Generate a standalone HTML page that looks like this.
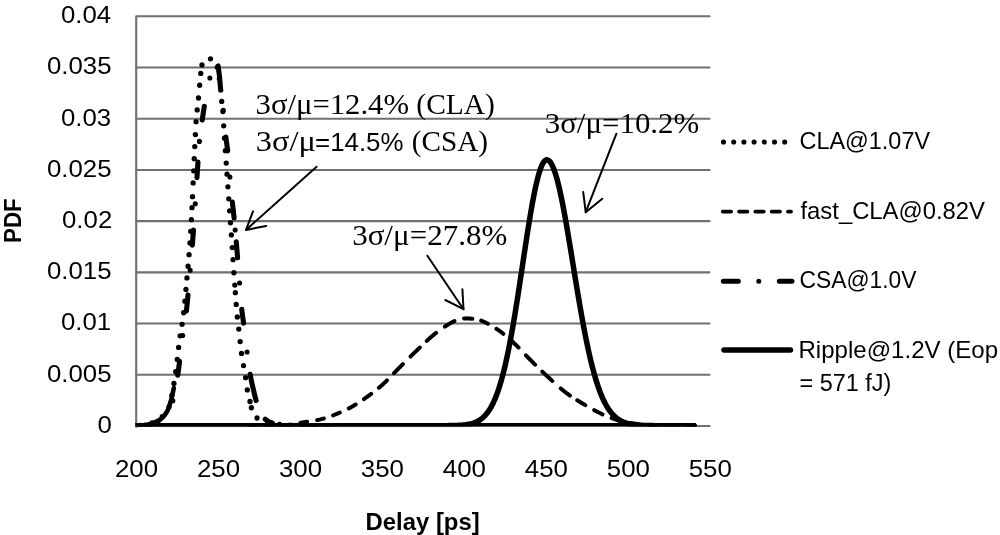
<!DOCTYPE html>
<html><head><meta charset="utf-8"><style>
html,body{margin:0;padding:0;background:#fff;}
svg{display:block;will-change:transform;}
text{font-family:"Liberation Sans",sans-serif;fill:#000;}
text.s{font-family:"Liberation Serif",serif;}
</style></head><body>
<svg width="1000" height="535" viewBox="0 0 1000 535">
<rect width="1000" height="535" fill="#fff"/>
<defs><clipPath id="pa"><rect x="135.5" y="0" width="576" height="426.4"/></clipPath></defs>
<g stroke="#707070" stroke-width="2.1" fill="none" stroke-linecap="round">
<line x1="136" y1="67.51" x2="709.5" y2="67.51"/>
<line x1="136" y1="118.72" x2="709.5" y2="118.72"/>
<line x1="136" y1="169.93" x2="709.5" y2="169.93"/>
<line x1="136" y1="221.14" x2="709.5" y2="221.14"/>
<line x1="136" y1="272.35" x2="709.5" y2="272.35"/>
<line x1="136" y1="323.56" x2="709.5" y2="323.56"/>
<line x1="136" y1="374.77" x2="709.5" y2="374.77"/>
<path d="M136.2,427 L136.2,16.3 L709.5,16.3" stroke-linejoin="round"/>
<line x1="136.2" y1="426" x2="709.5" y2="426"/>
</g>
<text font-size="24" transform="translate(60.95,23.45) scale(1.0750,1)">0.04</text>
<text font-size="24" transform="translate(46.98,74.00) scale(1.0750,1)">0.035</text>
<text font-size="24" transform="translate(60.95,126.30) scale(1.0750,1)">0.03</text>
<text font-size="24" transform="translate(46.98,176.95) scale(1.0750,1)">0.025</text>
<text font-size="24" transform="translate(62.03,228.45) scale(1.0750,1)">0.02</text>
<text font-size="24" transform="translate(46.98,279.45) scale(1.0750,1)">0.015</text>
<text font-size="24" transform="translate(60.95,330.00) scale(1.0750,1)">0.01</text>
<text font-size="24" transform="translate(46.98,382.35) scale(1.0750,1)">0.005</text>
<text font-size="24" transform="translate(97.50,433.25) scale(1.0750,1)">0</text>
<text font-size="24" transform="translate(114.94,477.00) scale(1.0780,1)">200</text>
<text font-size="24" transform="translate(196.91,477.00) scale(1.0780,1)">250</text>
<text font-size="24" transform="translate(278.88,477.00) scale(1.0780,1)">300</text>
<text font-size="24" transform="translate(360.85,477.00) scale(1.0780,1)">350</text>
<text font-size="24" transform="translate(442.82,477.00) scale(1.0780,1)">400</text>
<text font-size="24" transform="translate(524.79,477.00) scale(1.0780,1)">450</text>
<text font-size="24" transform="translate(606.76,477.00) scale(1.0780,1)">500</text>
<text font-size="24" transform="translate(688.73,477.00) scale(1.0780,1)">550</text>
<text font-size="24" font-weight="bold" transform="translate(365.61,529.50) scale(0.9946,1)">Delay [ps]</text>
<text font-size="24" transform="translate(799.52,149.10) scale(0.9759,1)">CLA@1.07V</text>
<text font-size="24" transform="translate(800.50,218.60) scale(0.9935,1)">fast_CLA@0.82V</text>
<text font-size="24" transform="translate(799.55,288.10) scale(0.9508,1)">CSA@1.0V</text>
<text font-size="24" transform="translate(798.49,357.60) scale(1.0026,1)">Ripple@1.2V (Eop</text>
<text font-size="24" transform="translate(799.52,390.80) scale(0.9761,1)">= 571 fJ)</text>
<text class="s" font-size="30" transform="translate(255.55,114.10) scale(1.0238,1)">3σ/μ=12.4%</text>
<text class="s" font-size="30" transform="translate(416.32,114.10) scale(0.9821,1)">(CLA)</text>
<text class="s" font-size="30" transform="translate(255.74,150.80) scale(1.0808,1)">3σ/μ</text>
<text font-size="26.5" transform="translate(315.12,150.60) scale(0.9753,1)">=14.5%</text>
<text class="s" font-size="30" transform="translate(411.73,150.80) scale(0.9737,1)">(CSA)</text>
<text class="s" font-size="30" transform="translate(544.74,133.20) scale(1.0306,1)">3σ/μ=10.2%</text>
<text class="s" font-size="30" transform="translate(352.13,245.10) scale(1.0347,1)">3σ/μ=27.8%</text>
<text font-size="24.5" font-weight="bold" transform="translate(21.3,242.92) rotate(-90) scale(0.9109,1)">PDF</text>
<g clip-path="url(#pa)" fill="none" stroke="#000" stroke-linejoin="round">
<line x1="133" y1="424.75" x2="694.6" y2="424.75" stroke-width="3.4" stroke-linecap="round"/>
<path d="M250.00,425.60 L250.52,425.60 L251.12,425.59 L251.80,425.59 L252.53,425.59 L253.33,425.59 L254.19,425.59 L255.10,425.58 L256.06,425.58 L257.05,425.58 L258.09,425.58 L259.16,425.58 L260.26,425.57 L261.38,425.57 L262.52,425.57 L263.67,425.56 L264.83,425.56 L266.00,425.56 L267.16,425.55 L268.32,425.54 L269.47,425.54 L270.60,425.53 L271.71,425.52 L272.80,425.51 L273.85,425.50 L274.87,425.49 L275.86,425.48 L276.79,425.47 L277.68,425.45 L278.51,425.44 L279.29,425.42 L280.00,425.40 L281.51,425.35 L282.83,425.30 L283.99,425.25 L285.00,425.19 L285.90,425.13 L286.71,425.07 L287.46,424.99 L288.17,424.92 L288.86,424.83 L289.57,424.74 L290.31,424.63 L291.11,424.52 L292.00,424.40 L292.94,424.27 L293.86,424.12 L294.78,423.97 L295.69,423.80 L296.61,423.63 L297.54,423.45 L298.47,423.26 L299.41,423.07 L300.38,422.88 L301.37,422.68 L302.38,422.49 L303.42,422.29 L304.50,422.10 L305.35,421.96 L306.22,421.82 L307.11,421.68 L308.02,421.55 L308.95,421.42 L309.89,421.29 L310.84,421.15 L311.80,421.01 L312.77,420.87 L313.74,420.72 L314.71,420.57 L315.69,420.40 L316.66,420.23 L317.63,420.04 L318.60,419.84 L319.55,419.63 L320.50,419.40 L321.44,419.16 L322.38,418.90 L323.33,418.64 L324.27,418.36 L325.21,418.07 L326.16,417.78 L327.10,417.47 L328.04,417.16 L328.98,416.84 L329.93,416.51 L330.87,416.17 L331.81,415.82 L332.75,415.47 L333.69,415.11 L334.63,414.75 L335.56,414.38 L336.50,414.00 L337.38,413.64 L338.27,413.27 L339.15,412.90 L340.03,412.52 L340.92,412.14 L341.80,411.75 L342.68,411.35 L343.56,410.95 L344.44,410.54 L345.32,410.12 L346.20,409.70 L347.08,409.26 L347.95,408.82 L348.83,408.38 L349.70,407.92 L350.57,407.45 L351.43,406.98 L352.30,406.50 L353.12,406.04 L353.93,405.56 L354.74,405.09 L355.55,404.60 L356.36,404.11 L357.17,403.61 L357.97,403.10 L358.77,402.58 L359.57,402.06 L360.38,401.54 L361.18,401.00 L361.98,400.46 L362.78,399.91 L363.58,399.36 L364.38,398.80 L365.18,398.23 L365.99,397.66 L366.79,397.08 L367.60,396.50 L368.37,395.94 L369.14,395.38 L369.90,394.81 L370.67,394.24 L371.44,393.66 L372.21,393.08 L372.98,392.50 L373.75,391.90 L374.52,391.31 L375.29,390.70 L376.06,390.09 L376.84,389.47 L377.61,388.84 L378.38,388.20 L379.15,387.56 L379.92,386.91 L380.69,386.25 L381.46,385.57 L382.23,384.89 L383.00,384.20 L383.70,383.56 L384.39,382.91 L385.09,382.25 L385.78,381.58 L386.47,380.90 L387.16,380.21 L387.85,379.51 L388.54,378.81 L389.23,378.10 L389.92,377.39 L390.61,376.67 L391.31,375.94 L392.00,375.22 L392.70,374.49 L393.40,373.75 L394.10,373.02 L394.81,372.28 L395.51,371.54 L396.23,370.80 L396.95,370.07 L397.67,369.33 L398.40,368.60 L399.07,367.93 L399.75,367.25 L400.43,366.57 L401.12,365.88 L401.81,365.19 L402.50,364.50 L403.20,363.81 L403.90,363.11 L404.60,362.41 L405.30,361.71 L406.01,361.01 L406.71,360.31 L407.42,359.61 L408.13,358.91 L408.84,358.21 L409.55,357.51 L410.26,356.81 L410.97,356.12 L411.68,355.42 L412.38,354.73 L413.09,354.04 L413.80,353.36 L414.50,352.68 L415.20,352.00 L415.90,351.32 L416.61,350.64 L417.32,349.95 L418.03,349.26 L418.74,348.57 L419.45,347.87 L420.17,347.18 L420.88,346.49 L421.60,345.79 L422.31,345.10 L423.03,344.41 L423.74,343.73 L424.45,343.05 L425.16,342.38 L425.86,341.72 L426.56,341.06 L427.26,340.41 L427.95,339.77 L428.64,339.14 L429.33,338.53 L430.01,337.93 L430.68,337.34 L431.34,336.76 L432.00,336.20 L432.83,335.51 L433.66,334.83 L434.48,334.17 L435.31,333.51 L436.13,332.87 L436.95,332.25 L437.76,331.64 L438.57,331.04 L439.37,330.46 L440.16,329.89 L440.93,329.34 L441.70,328.80 L442.45,328.28 L443.19,327.78 L443.91,327.29 L444.61,326.82 L445.29,326.36 L445.96,325.92 L446.60,325.50 L447.65,324.82 L448.61,324.20 L449.52,323.65 L450.37,323.14 L451.18,322.68 L451.97,322.26 L452.74,321.86 L453.52,321.50 L454.31,321.16 L455.13,320.82 L456.00,320.50 L456.90,320.19 L457.81,319.90 L458.73,319.63 L459.67,319.39 L460.60,319.17 L461.55,318.97 L462.49,318.81 L463.43,318.66 L464.36,318.55 L465.28,318.46 L466.20,318.40 L467.20,318.37 L468.20,318.39 L469.21,318.45 L470.21,318.54 L471.20,318.66 L472.19,318.80 L473.16,318.96 L474.12,319.13 L475.07,319.31 L476.00,319.50 L476.97,319.69 L477.86,319.85 L478.71,320.01 L479.54,320.20 L480.38,320.42 L481.28,320.70 L482.26,321.06 L483.36,321.52 L484.60,322.10 L485.28,322.44 L486.00,322.80 L486.75,323.19 L487.53,323.60 L488.34,324.03 L489.17,324.48 L490.03,324.95 L490.90,325.44 L491.78,325.95 L492.68,326.48 L493.58,327.02 L494.49,327.58 L495.41,328.15 L496.32,328.74 L497.23,329.34 L498.13,329.95 L499.02,330.57 L499.90,331.20 L500.62,331.73 L501.34,332.27 L502.07,332.83 L502.80,333.41 L503.54,333.99 L504.28,334.59 L505.02,335.20 L505.76,335.82 L506.51,336.45 L507.25,337.09 L508.00,337.73 L508.74,338.38 L509.49,339.04 L510.23,339.70 L510.97,340.36 L511.70,341.02 L512.43,341.69 L513.16,342.35 L513.88,343.02 L514.59,343.68 L515.30,344.34 L516.00,345.00 L516.72,345.69 L517.43,346.38 L518.14,347.07 L518.83,347.76 L519.51,348.46 L520.19,349.16 L520.87,349.86 L521.54,350.57 L522.21,351.28 L522.87,351.99 L523.54,352.70 L524.21,353.42 L524.88,354.14 L525.56,354.86 L526.24,355.58 L526.92,356.31 L527.62,357.04 L528.32,357.78 L529.04,358.52 L529.76,359.26 L530.50,360.00 L531.16,360.65 L531.82,361.31 L532.48,361.98 L533.15,362.65 L533.83,363.32 L534.51,364.00 L535.20,364.67 L535.89,365.36 L536.58,366.04 L537.28,366.72 L537.98,367.41 L538.69,368.10 L539.40,368.79 L540.11,369.48 L540.82,370.17 L541.53,370.86 L542.25,371.54 L542.97,372.23 L543.69,372.91 L544.41,373.60 L545.13,374.28 L545.85,374.96 L546.58,375.63 L547.30,376.30 L548.03,376.97 L548.76,377.65 L549.50,378.33 L550.24,379.02 L550.99,379.71 L551.74,380.41 L552.49,381.10 L553.25,381.80 L554.01,382.49 L554.77,383.18 L555.53,383.87 L556.29,384.56 L557.05,385.24 L557.81,385.91 L558.57,386.58 L559.33,387.24 L560.08,387.89 L560.83,388.53 L561.57,389.16 L562.31,389.77 L563.04,390.38 L563.77,390.97 L564.49,391.54 L565.20,392.10 L566.04,392.75 L566.88,393.38 L567.70,393.98 L568.52,394.57 L569.33,395.14 L570.13,395.69 L570.93,396.23 L571.73,396.76 L572.52,397.28 L573.31,397.79 L574.09,398.29 L574.88,398.78 L575.67,399.27 L576.46,399.76 L577.25,400.24 L578.05,400.73 L578.85,401.21 L579.66,401.70 L580.48,402.20 L581.30,402.70 L582.13,403.21 L582.98,403.72 L583.83,404.23 L584.70,404.74 L585.56,405.26 L586.44,405.77 L587.31,406.28 L588.19,406.79 L589.07,407.29 L589.95,407.79 L590.82,408.29 L591.69,408.77 L592.56,409.25 L593.41,409.72 L594.26,410.18 L595.10,410.63 L595.92,411.07 L596.73,411.49 L597.52,411.90 L598.30,412.30 L599.31,412.81 L600.30,413.29 L601.26,413.75 L602.21,414.19 L603.14,414.62 L604.05,415.03 L604.95,415.42 L605.84,415.80 L606.73,416.17 L607.61,416.53 L608.48,416.87 L609.36,417.21 L610.23,417.55 L611.11,417.88 L612.00,418.20 L612.95,418.54 L613.88,418.87 L614.80,419.18 L615.71,419.48 L616.61,419.77 L617.52,420.05 L618.42,420.32 L619.33,420.59 L620.24,420.84 L621.16,421.08 L622.09,421.32 L623.04,421.55 L624.01,421.78 L625.00,422.00 L625.87,422.19 L626.75,422.37 L627.62,422.54 L628.49,422.71 L629.37,422.87 L630.26,423.03 L631.15,423.18 L632.06,423.32 L632.98,423.46 L633.92,423.60 L634.88,423.73 L635.85,423.85 L636.85,423.97 L637.87,424.08 L638.92,424.19 L640.00,424.30 L640.83,424.38 L641.65,424.45 L642.46,424.52 L643.28,424.58 L644.09,424.64 L644.91,424.70 L645.74,424.76 L646.58,424.81 L647.43,424.86 L648.31,424.90 L649.20,424.95 L650.12,424.99 L651.06,425.03 L652.04,425.07 L653.05,425.10 L654.09,425.14 L655.18,425.17 L656.31,425.21 L657.49,425.24 L658.72,425.27 L660.00,425.30 L660.79,425.32 L661.62,425.33 L662.50,425.35 L663.42,425.37 L664.38,425.38 L665.37,425.39 L666.39,425.41 L667.44,425.42 L668.52,425.43 L669.61,425.44 L670.72,425.45 L671.85,425.46 L672.99,425.47 L674.14,425.48 L675.29,425.49 L676.45,425.50 L677.60,425.51 L678.75,425.51 L679.89,425.52 L681.02,425.53 L682.14,425.53 L683.24,425.54 L684.32,425.54 L685.37,425.55 L686.40,425.55 L687.40,425.56 L688.36,425.56 L689.29,425.57 L690.17,425.57 L691.02,425.58 L691.82,425.58 L692.57,425.58 L693.26,425.59 L693.90,425.59 L694.48,425.60 L695.00,425.60" stroke-width="4" stroke-dasharray="6.50 10.00 7.00 10.00 7.00 10.00 7.00 10.03 6.95 9.82 7.20 9.95 7.89 9.84 9.00 9.81 10.82 10.13 12.77 10.78 12.91 9.59 12.32 10.75 11.05 10.00 8.29 9.08 7.37 9.86 8.56 9.49 11.04 10.72 13.10 10.04 13.65 11.27 11.59 8.79 9.41 10.19 9.26 9.87 9.00 10.00 9.00 10.00 9.00 10.00 9.00 10.00 9.00 10.00 9.00 2000.00" stroke-linecap="round"/>
<path d="M130.00,425.60 L130.54,425.60 L131.24,425.60 L132.06,425.61 L132.98,425.62 L133.98,425.62 L135.03,425.63 L136.09,425.62 L137.15,425.61 L138.17,425.59 L139.13,425.55 L140.00,425.50 L140.98,425.43 L141.91,425.35 L142.81,425.26 L143.69,425.16 L144.55,425.04 L145.41,424.90 L146.26,424.73 L147.12,424.53 L148.00,424.30 L148.89,424.03 L149.80,423.74 L150.70,423.42 L151.61,423.07 L152.51,422.70 L153.41,422.30 L154.29,421.89 L155.16,421.45 L156.00,421.00 L156.84,420.52 L157.67,420.01 L158.50,419.48 L159.32,418.92 L160.12,418.35 L160.89,417.77 L161.63,417.18 L162.34,416.59 L163.00,416.00 L163.69,415.36 L164.34,414.73 L164.94,414.11 L165.50,413.47 L166.03,412.80 L166.54,412.10 L167.03,411.33 L167.50,410.50 L167.87,409.78 L168.21,409.02 L168.54,408.22 L168.86,407.39 L169.16,406.53 L169.44,405.65 L169.72,404.75 L169.99,403.84 L170.25,402.92 L170.50,402.00 L170.72,401.15 L170.92,400.30 L171.12,399.44 L171.30,398.56 L171.48,397.67 L171.65,396.77 L171.81,395.85 L171.98,394.91 L172.15,393.96 L172.32,392.99 L172.50,392.00 L172.65,391.15 L172.81,390.28 L172.96,389.41 L173.12,388.52 L173.27,387.62 L173.42,386.71 L173.58,385.79 L173.73,384.85 L173.88,383.91 L174.04,382.95 L174.19,381.98 L174.35,380.99 L174.50,380.00 L174.63,379.12 L174.77,378.23 L174.91,377.31 L175.05,376.38 L175.19,375.44 L175.32,374.50 L175.46,373.54 L175.60,372.58 L175.74,371.62 L175.87,370.67 L176.00,369.71 L176.13,368.77 L176.26,367.83 L176.38,366.91 L176.50,366.00 L176.62,365.04 L176.74,364.09 L176.85,363.15 L176.97,362.21 L177.07,361.28 L177.18,360.36 L177.28,359.44 L177.38,358.52 L177.48,357.60 L177.59,356.69 L177.69,355.77 L177.79,354.85 L177.89,353.93 L178.00,353.00 L178.11,352.07 L178.21,351.13 L178.31,350.20 L178.41,349.26 L178.52,348.32 L178.62,347.38 L178.72,346.44 L178.82,345.50 L178.93,344.57 L179.03,343.64 L179.15,342.72 L179.26,341.80 L179.38,340.90 L179.50,340.00 L179.64,339.06 L179.78,338.16 L179.92,337.29 L180.06,336.43 L180.21,335.58 L180.36,334.74 L180.51,333.88 L180.67,333.01 L180.83,332.10 L180.99,331.16 L181.16,330.17 L181.33,329.12 L181.50,328.00 L181.62,327.21 L181.74,326.40 L181.87,325.59 L181.99,324.76 L182.12,323.92 L182.25,323.07 L182.38,322.20 L182.52,321.31 L182.65,320.40 L182.79,319.47 L182.92,318.52 L183.06,317.55 L183.19,316.55 L183.33,315.53 L183.46,314.48 L183.60,313.41 L183.73,312.30 L183.87,311.17 L184.00,310.00 L184.09,309.20 L184.17,308.41 L184.26,307.62 L184.34,306.84 L184.42,306.06 L184.50,305.28 L184.58,304.49 L184.66,303.70 L184.74,302.90 L184.82,302.09 L184.90,301.26 L184.98,300.42 L185.06,299.57 L185.14,298.69 L185.22,297.79 L185.30,296.86 L185.39,295.91 L185.47,294.93 L185.56,293.92 L185.65,292.87 L185.75,291.79 L185.85,290.67 L185.95,289.51 L186.05,288.30 L186.16,287.05 L186.27,285.75 L186.38,284.40 L186.50,283.00 L186.56,282.26 L186.63,281.51 L186.69,280.77 L186.76,280.01 L186.83,279.26 L186.90,278.50 L186.97,277.74 L187.04,276.97 L187.11,276.19 L187.18,275.41 L187.25,274.63 L187.33,273.83 L187.40,273.03 L187.48,272.23 L187.55,271.42 L187.63,270.59 L187.71,269.76 L187.79,268.93 L187.86,268.08 L187.94,267.22 L188.02,266.36 L188.10,265.48 L188.18,264.59 L188.27,263.70 L188.35,262.79 L188.43,261.87 L188.51,260.94 L188.60,259.99 L188.68,259.04 L188.76,258.07 L188.85,257.09 L188.93,256.09 L189.02,255.08 L189.10,254.06 L189.19,253.02 L189.27,251.96 L189.36,250.89 L189.44,249.81 L189.53,248.71 L189.61,247.59 L189.70,246.45 L189.78,245.30 L189.87,244.13 L189.95,242.94 L190.04,241.74 L190.12,240.51 L190.21,239.27 L190.29,238.01 L190.38,236.72 L190.46,235.42 L190.55,234.10 L190.63,232.75 L190.72,231.39 L190.80,230.00 L190.85,229.23 L190.89,228.44 L190.94,227.64 L190.98,226.82 L191.03,225.98 L191.08,225.13 L191.13,224.26 L191.18,223.38 L191.22,222.49 L191.27,221.58 L191.32,220.66 L191.37,219.72 L191.42,218.78 L191.47,217.82 L191.52,216.85 L191.57,215.86 L191.62,214.87 L191.67,213.87 L191.72,212.85 L191.78,211.83 L191.83,210.79 L191.88,209.75 L191.93,208.70 L191.98,207.64 L192.03,206.57 L192.09,205.49 L192.14,204.41 L192.19,203.32 L192.24,202.22 L192.30,201.12 L192.35,200.01 L192.40,198.90 L192.46,197.78 L192.51,196.65 L192.56,195.53 L192.61,194.40 L192.67,193.26 L192.72,192.12 L192.77,190.98 L192.83,189.84 L192.88,188.69 L192.93,187.55 L192.98,186.40 L193.04,185.25 L193.09,184.10 L193.14,182.95 L193.19,181.80 L193.25,180.66 L193.30,179.51 L193.35,178.37 L193.40,177.22 L193.45,176.08 L193.51,174.94 L193.56,173.81 L193.61,172.67 L193.66,171.55 L193.71,170.42 L193.76,169.30 L193.81,168.19 L193.86,167.08 L193.91,165.98 L193.96,164.88 L194.01,163.79 L194.06,162.70 L194.11,161.63 L194.16,160.56 L194.20,159.49 L194.25,158.44 L194.30,157.40 L194.35,156.36 L194.39,155.33 L194.44,154.32 L194.48,153.31 L194.53,152.32 L194.57,151.33 L194.62,150.36 L194.66,149.40 L194.71,148.45 L194.75,147.51 L194.79,146.59 L194.83,145.68 L194.88,144.78 L194.92,143.90 L194.96,143.03 L195.00,142.18 L195.04,141.34 L195.08,140.52 L195.12,139.71 L195.15,138.92 L195.19,138.15 L195.23,137.39 L195.26,136.65 L195.30,135.93 L195.33,135.23 L195.37,134.54 L195.40,133.88 L195.44,133.23 L195.47,132.61 L195.50,132.00 L195.64,129.36 L195.77,127.03 L195.88,125.00 L195.99,123.23 L196.08,121.72 L196.16,120.43 L196.24,119.33 L196.31,118.42 L196.37,117.66 L196.42,117.02 L196.48,116.50 L196.53,116.06 L196.57,115.68 L196.62,115.33 L196.66,115.00 L196.71,114.66 L196.76,114.29 L196.81,113.86 L196.87,113.35 L196.93,112.74 L197.00,112.00 L197.10,110.91 L197.20,109.89 L197.29,108.94 L197.39,108.05 L197.48,107.19 L197.58,106.35 L197.67,105.53 L197.77,104.72 L197.86,103.89 L197.96,103.04 L198.06,102.15 L198.17,101.22 L198.27,100.22 L198.39,99.15 L198.50,98.00 L198.58,97.19 L198.66,96.34 L198.74,95.44 L198.82,94.51 L198.91,93.55 L199.00,92.55 L199.09,91.54 L199.18,90.51 L199.27,89.46 L199.36,88.40 L199.45,87.34 L199.55,86.28 L199.64,85.23 L199.73,84.18 L199.82,83.15 L199.91,82.14 L200.00,81.16 L200.09,80.20 L200.18,79.27 L200.26,78.39 L200.34,77.54 L200.42,76.74 L200.50,76.00 L200.64,74.68 L200.76,73.46 L200.86,72.34 L200.96,71.30 L201.06,70.33 L201.16,69.44 L201.26,68.60 L201.37,67.81 L201.50,67.07 L201.64,66.36 L201.81,65.67 L202.00,65.00 L202.38,63.94 L202.81,63.02 L203.28,62.24 L203.79,61.56 L204.33,60.98 L204.90,60.46 L205.50,60.00 L206.26,59.53 L207.09,59.17 L207.97,58.92 L208.85,58.77 L209.71,58.73 L210.50,58.80 L211.37,59.00 L212.20,59.32 L212.98,59.82 L213.75,60.53 L214.50,61.50 L214.87,62.07 L215.25,62.68 L215.62,63.32 L215.98,64.03 L216.34,64.79 L216.70,65.64 L217.04,66.57 L217.37,67.60 L217.69,68.74 L218.00,70.00 L218.16,70.73 L218.31,71.52 L218.46,72.36 L218.61,73.25 L218.76,74.18 L218.91,75.14 L219.05,76.13 L219.19,77.14 L219.33,78.17 L219.46,79.21 L219.59,80.26 L219.72,81.30 L219.84,82.33 L219.96,83.35 L220.08,84.35 L220.19,85.32 L220.30,86.25 L220.40,87.15 L220.50,88.00 L220.63,89.11 L220.74,90.18 L220.84,91.24 L220.94,92.26 L221.02,93.26 L221.11,94.24 L221.18,95.19 L221.25,96.13 L221.32,97.05 L221.40,97.95 L221.47,98.83 L221.54,99.70 L221.62,100.56 L221.70,101.40 L221.81,102.43 L221.92,103.38 L222.04,104.28 L222.15,105.14 L222.27,105.98 L222.38,106.81 L222.49,107.66 L222.60,108.53 L222.71,109.45 L222.81,110.44 L222.90,111.50 L222.96,112.29 L223.02,113.04 L223.06,113.77 L223.10,114.49 L223.14,115.22 L223.18,115.96 L223.21,116.74 L223.25,117.56 L223.29,118.45 L223.34,119.40 L223.39,120.45 L223.45,121.60 L223.52,122.86 L223.60,124.26 L223.70,125.80 L223.74,126.49 L223.79,127.19 L223.83,127.90 L223.88,128.61 L223.93,129.33 L223.97,130.06 L224.02,130.79 L224.07,131.54 L224.12,132.30 L224.17,133.08 L224.22,133.87 L224.27,134.67 L224.33,135.49 L224.38,136.33 L224.44,137.19 L224.50,138.06 L224.56,138.96 L224.62,139.88 L224.68,140.83 L224.75,141.79 L224.81,142.79 L224.88,143.81 L224.95,144.86 L225.03,145.93 L225.10,147.04 L225.18,148.18 L225.26,149.35 L225.34,150.55 L225.43,151.79 L225.52,153.06 L225.61,154.37 L225.70,155.72 L225.80,157.11 L225.90,158.53 L226.00,160.00 L226.05,160.74 L226.10,161.49 L226.16,162.26 L226.21,163.04 L226.27,163.83 L226.33,164.63 L226.38,165.45 L226.44,166.27 L226.50,167.11 L226.56,167.96 L226.62,168.82 L226.69,169.69 L226.75,170.57 L226.81,171.46 L226.88,172.36 L226.94,173.27 L227.01,174.19 L227.07,175.11 L227.14,176.05 L227.21,176.99 L227.27,177.94 L227.34,178.90 L227.41,179.87 L227.48,180.84 L227.55,181.83 L227.62,182.81 L227.70,183.81 L227.77,184.81 L227.84,185.82 L227.91,186.83 L227.99,187.85 L228.06,188.87 L228.13,189.90 L228.21,190.93 L228.28,191.97 L228.36,193.01 L228.43,194.05 L228.51,195.10 L228.58,196.15 L228.66,197.21 L228.73,198.27 L228.81,199.33 L228.89,200.39 L228.96,201.45 L229.04,202.52 L229.12,203.59 L229.19,204.66 L229.27,205.73 L229.35,206.80 L229.42,207.87 L229.50,208.94 L229.58,210.01 L229.65,211.08 L229.73,212.15 L229.81,213.22 L229.88,214.29 L229.96,215.36 L230.04,216.42 L230.11,217.49 L230.19,218.55 L230.26,219.61 L230.34,220.66 L230.41,221.72 L230.49,222.77 L230.56,223.81 L230.64,224.85 L230.71,225.89 L230.78,226.93 L230.86,227.96 L230.93,228.98 L231.00,230.00 L231.07,230.97 L231.14,231.95 L231.21,232.93 L231.28,233.93 L231.35,234.94 L231.42,235.95 L231.49,236.97 L231.56,238.00 L231.63,239.04 L231.70,240.08 L231.78,241.13 L231.85,242.19 L231.92,243.25 L232.00,244.32 L232.07,245.39 L232.14,246.47 L232.22,247.55 L232.29,248.64 L232.37,249.73 L232.44,250.82 L232.51,251.92 L232.59,253.01 L232.66,254.11 L232.74,255.21 L232.81,256.31 L232.89,257.42 L232.97,258.52 L233.04,259.62 L233.12,260.73 L233.19,261.83 L233.27,262.93 L233.34,264.03 L233.42,265.13 L233.49,266.22 L233.56,267.31 L233.64,268.40 L233.71,269.49 L233.79,270.57 L233.86,271.65 L233.93,272.72 L234.01,273.79 L234.08,274.85 L234.15,275.91 L234.23,276.96 L234.30,278.01 L234.37,279.04 L234.44,280.08 L234.51,281.10 L234.58,282.11 L234.65,283.12 L234.72,284.12 L234.79,285.10 L234.86,286.08 L234.93,287.05 L234.99,288.01 L235.06,288.96 L235.13,289.89 L235.19,290.82 L235.26,291.73 L235.32,292.63 L235.39,293.52 L235.45,294.39 L235.51,295.25 L235.57,296.10 L235.64,296.93 L235.70,297.75 L235.75,298.56 L235.81,299.35 L235.87,300.12 L235.93,300.87 L235.98,301.61 L236.04,302.34 L236.09,303.04 L236.15,303.73 L236.20,304.40 L236.35,306.30 L236.50,308.06 L236.63,309.68 L236.76,311.16 L236.88,312.53 L237.00,313.78 L237.11,314.93 L237.22,315.99 L237.32,316.97 L237.42,317.88 L237.52,318.72 L237.61,319.51 L237.70,320.25 L237.79,320.95 L237.88,321.63 L237.96,322.30 L238.05,322.96 L238.14,323.62 L238.23,324.29 L238.32,324.98 L238.41,325.70 L238.50,326.47 L238.60,327.28 L238.70,328.16 L238.80,329.10 L238.91,330.09 L239.01,331.09 L239.12,332.11 L239.23,333.14 L239.34,334.18 L239.46,335.22 L239.57,336.27 L239.68,337.33 L239.79,338.38 L239.91,339.43 L240.02,340.48 L240.13,341.51 L240.24,342.55 L240.35,343.56 L240.47,344.57 L240.58,345.56 L240.68,346.53 L240.79,347.49 L240.90,348.42 L241.00,349.32 L241.11,350.20 L241.21,351.05 L241.31,351.87 L241.40,352.65 L241.50,353.40 L241.68,354.74 L241.85,355.94 L242.01,357.04 L242.16,358.05 L242.32,358.98 L242.46,359.85 L242.61,360.67 L242.76,361.47 L242.90,362.25 L243.05,363.04 L243.19,363.85 L243.34,364.70 L243.50,365.60 L243.66,366.53 L243.82,367.47 L243.99,368.40 L244.15,369.33 L244.32,370.26 L244.49,371.19 L244.65,372.11 L244.82,373.04 L244.98,373.97 L245.14,374.90 L245.30,375.83 L245.45,376.77 L245.60,377.70 L245.74,378.64 L245.87,379.58 L246.00,380.52 L246.12,381.47 L246.24,382.41 L246.35,383.36 L246.47,384.30 L246.59,385.25 L246.72,386.19 L246.85,387.12 L246.99,388.06 L247.14,388.98 L247.30,389.90 L247.49,390.90 L247.70,391.91 L247.92,392.93 L248.15,393.94 L248.39,394.96 L248.63,395.96 L248.87,396.95 L249.11,397.92 L249.35,398.87 L249.58,399.78 L249.80,400.66 L250.00,401.50 L250.24,402.54 L250.43,403.51 L250.61,404.41 L250.77,405.28 L250.94,406.11 L251.14,406.93 L251.37,407.76 L251.65,408.61 L252.00,409.50 L252.37,410.35 L252.79,411.25 L253.25,412.17 L253.74,413.10 L254.25,414.03 L254.78,414.94 L255.33,415.80 L255.89,416.61 L256.45,417.35 L257.00,418.00 L257.80,418.78 L258.61,419.42 L259.45,419.95 L260.31,420.40 L261.18,420.79 L262.08,421.15 L263.00,421.50 L263.81,421.78 L264.61,422.02 L265.42,422.21 L266.25,422.38 L267.11,422.53 L268.02,422.67 L268.97,422.83 L270.00,423.00 L270.76,423.14 L271.50,423.28 L272.24,423.42 L272.99,423.56 L273.78,423.70 L274.61,423.85 L275.50,423.98 L276.47,424.12 L277.53,424.25 L278.70,424.38 L280.00,424.50 L280.73,424.56 L281.47,424.62 L282.24,424.69 L283.04,424.75 L283.85,424.81 L284.69,424.88 L285.56,424.94 L286.44,425.00 L287.35,425.06 L288.28,425.12 L289.23,425.17 L290.20,425.23 L291.20,425.28 L292.22,425.33 L293.27,425.38 L294.33,425.42 L295.42,425.47 L296.53,425.50 L297.66,425.54 L298.82,425.57 L300.00,425.60 L300.86,425.62 L301.77,425.63 L302.73,425.64 L303.73,425.66 L304.77,425.66 L305.84,425.67 L306.94,425.68 L308.07,425.68 L309.21,425.68 L310.37,425.68 L311.54,425.68 L312.72,425.68 L313.90,425.68 L315.08,425.67 L316.25,425.67 L317.41,425.66 L318.56,425.66 L319.68,425.65 L320.78,425.65 L321.85,425.64 L322.89,425.63 L323.89,425.63 L324.85,425.62 L325.76,425.62 L326.62,425.61 L327.43,425.61 L328.17,425.60 L328.85,425.60 L329.46,425.60 L330.00,425.60" stroke-width="5.3" stroke-dasharray="0.00 10.41 0.00 12.00 0.00 12.00 0.00 12.00 0.00 12.00 0.00 12.00 0.00 12.00 0.00 12.28 0.00 12.14 0.00 11.67 0.00 11.67 0.00 11.67 0.00 11.67 0.00 11.67 0.00 11.67 0.00 11.67 0.00 11.67 0.00 11.67 0.00 11.67 0.00 11.67 0.00 12.10 0.00 10.99 0.00 13.72 0.00 12.13 0.00 12.13 0.00 12.13 0.00 12.06 0.00 12.85 0.00 11.88 0.00 11.97 0.00 12.82 0.00 11.82 0.00 8.57 0.00 11.48 0.00 11.47 0.00 11.47 0.00 11.47 0.00 11.47 0.00 10.17 0.00 14.32 0.00 12.44 0.00 12.44 0.00 12.44 0.00 11.17 0.00 12.68 0.00 12.01 0.00 12.01 0.00 12.01 0.00 12.20 0.00 12.65 0.00 12.10 0.00 13.13 0.00 12.41 0.00 7.55 0.00 11.80 0.00 12.62 0.00 12.22 0.00 12.49 0.00 11.96 0.00 12.36 0.00 12.28 0.00 12.32 0.00 11.91 0.00 6.41 0.00 11.75 0.00 12.00 0.00 12.00 0.00 12.00 0.00 12.00 0.00 12.00 0.00 12.00 0.00 2000.00" stroke-linecap="round"/>
<path d="M130.00,425.60 L130.53,425.60 L131.21,425.60 L132.01,425.61 L132.90,425.62 L133.87,425.62 L134.89,425.63 L135.94,425.62 L137.00,425.61 L138.05,425.59 L139.05,425.55 L140.00,425.50 L140.92,425.44 L141.85,425.38 L142.78,425.31 L143.72,425.23 L144.66,425.15 L145.59,425.05 L146.51,424.94 L147.42,424.81 L148.30,424.66 L149.17,424.49 L150.00,424.30 L150.98,424.03 L151.93,423.74 L152.85,423.42 L153.75,423.07 L154.62,422.70 L155.48,422.30 L156.33,421.89 L157.17,421.45 L158.00,421.00 L158.84,420.52 L159.67,420.01 L160.50,419.48 L161.32,418.92 L162.12,418.35 L162.89,417.77 L163.63,417.18 L164.34,416.59 L165.00,416.00 L165.69,415.36 L166.34,414.73 L166.94,414.11 L167.50,413.47 L168.03,412.80 L168.54,412.10 L169.03,411.33 L169.50,410.50 L169.86,409.78 L170.20,409.02 L170.53,408.22 L170.83,407.39 L171.12,406.53 L171.41,405.65 L171.68,404.75 L171.96,403.84 L172.23,402.92 L172.50,402.00 L172.75,401.15 L172.99,400.30 L173.23,399.44 L173.47,398.56 L173.70,397.67 L173.93,396.77 L174.15,395.85 L174.37,394.91 L174.58,393.96 L174.79,392.99 L175.00,392.00 L175.17,391.15 L175.34,390.28 L175.50,389.41 L175.65,388.52 L175.81,387.62 L175.96,386.71 L176.11,385.79 L176.25,384.85 L176.40,383.91 L176.55,382.95 L176.70,381.98 L176.85,380.99 L177.00,380.00 L177.13,379.12 L177.27,378.23 L177.41,377.31 L177.55,376.38 L177.69,375.44 L177.82,374.50 L177.96,373.54 L178.10,372.58 L178.24,371.62 L178.37,370.67 L178.50,369.71 L178.63,368.77 L178.76,367.83 L178.88,366.91 L179.00,366.00 L179.12,365.04 L179.24,364.09 L179.35,363.15 L179.47,362.21 L179.57,361.28 L179.68,360.36 L179.78,359.44 L179.88,358.52 L179.98,357.60 L180.09,356.69 L180.19,355.77 L180.29,354.85 L180.39,353.93 L180.50,353.00 L180.61,352.07 L180.71,351.13 L180.81,350.20 L180.91,349.26 L181.02,348.32 L181.12,347.38 L181.22,346.44 L181.32,345.50 L181.43,344.57 L181.53,343.64 L181.65,342.72 L181.76,341.80 L181.88,340.90 L182.00,340.00 L182.14,339.06 L182.28,338.16 L182.42,337.29 L182.56,336.43 L182.71,335.58 L182.86,334.74 L183.01,333.88 L183.17,333.01 L183.33,332.10 L183.49,331.16 L183.66,330.17 L183.83,329.12 L184.00,328.00 L184.12,327.21 L184.24,326.40 L184.37,325.59 L184.49,324.76 L184.62,323.92 L184.75,323.07 L184.88,322.20 L185.02,321.31 L185.15,320.40 L185.29,319.47 L185.42,318.52 L185.56,317.55 L185.69,316.55 L185.83,315.53 L185.96,314.48 L186.10,313.41 L186.23,312.30 L186.37,311.17 L186.50,310.00 L186.59,309.20 L186.67,308.41 L186.76,307.62 L186.84,306.84 L186.92,306.06 L187.00,305.28 L187.08,304.49 L187.16,303.70 L187.23,302.90 L187.31,302.09 L187.39,301.26 L187.47,300.42 L187.55,299.57 L187.62,298.69 L187.71,297.79 L187.79,296.86 L187.87,295.91 L187.96,294.93 L188.05,293.92 L188.14,292.87 L188.23,291.79 L188.33,290.67 L188.43,289.51 L188.54,288.30 L188.65,287.05 L188.76,285.75 L188.88,284.40 L189.00,283.00 L189.07,282.26 L189.13,281.51 L189.20,280.75 L189.27,279.99 L189.33,279.23 L189.40,278.46 L189.47,277.68 L189.55,276.89 L189.62,276.10 L189.69,275.30 L189.76,274.49 L189.84,273.68 L189.91,272.86 L189.99,272.03 L190.06,271.19 L190.14,270.35 L190.22,269.49 L190.30,268.63 L190.38,267.76 L190.46,266.88 L190.54,265.99 L190.62,265.09 L190.70,264.18 L190.78,263.26 L190.86,262.33 L190.95,261.39 L191.03,260.44 L191.12,259.48 L191.20,258.50 L191.29,257.52 L191.37,256.52 L191.46,255.52 L191.55,254.50 L191.64,253.47 L191.73,252.43 L191.81,251.37 L191.90,250.30 L191.99,249.22 L192.09,248.13 L192.18,247.02 L192.27,245.90 L192.36,244.76 L192.45,243.62 L192.55,242.45 L192.64,241.28 L192.73,240.08 L192.83,238.88 L192.92,237.66 L193.02,236.42 L193.11,235.17 L193.21,233.90 L193.31,232.62 L193.40,231.32 L193.50,230.00 L193.56,229.21 L193.62,228.39 L193.68,227.57 L193.74,226.72 L193.80,225.86 L193.86,224.98 L193.92,224.09 L193.99,223.18 L194.05,222.26 L194.11,221.33 L194.18,220.38 L194.24,219.42 L194.31,218.45 L194.38,217.46 L194.44,216.47 L194.51,215.46 L194.58,214.44 L194.65,213.41 L194.72,212.37 L194.79,211.32 L194.86,210.27 L194.93,209.20 L195.00,208.13 L195.07,207.04 L195.14,205.96 L195.21,204.86 L195.28,203.76 L195.36,202.65 L195.43,201.54 L195.50,200.42 L195.57,199.30 L195.65,198.17 L195.72,197.04 L195.79,195.90 L195.87,194.77 L195.94,193.63 L196.01,192.48 L196.09,191.34 L196.16,190.20 L196.23,189.05 L196.31,187.91 L196.38,186.76 L196.45,185.62 L196.53,184.47 L196.60,183.33 L196.67,182.19 L196.75,181.06 L196.82,179.92 L196.89,178.79 L196.96,177.66 L197.04,176.54 L197.11,175.42 L197.18,174.31 L197.25,173.20 L197.32,172.09 L197.39,171.00 L197.46,169.91 L197.53,168.83 L197.60,167.75 L197.67,166.68 L197.74,165.63 L197.81,164.58 L197.88,163.54 L197.94,162.51 L198.01,161.49 L198.08,160.48 L198.14,159.48 L198.21,158.49 L198.27,157.52 L198.34,156.56 L198.40,155.61 L198.46,154.67 L198.53,153.75 L198.59,152.84 L198.65,151.95 L198.71,151.07 L198.77,150.21 L198.82,149.36 L198.88,148.53 L198.94,147.72 L198.99,146.92 L199.05,146.14 L199.10,145.38 L199.16,144.64 L199.21,143.92 L199.26,143.21 L199.31,142.53 L199.36,141.86 L199.41,141.22 L199.45,140.60 L199.50,140.00 L199.72,137.24 L199.91,134.90 L200.09,132.94 L200.25,131.32 L200.39,130.00 L200.52,128.94 L200.64,128.10 L200.74,127.46 L200.84,126.96 L200.94,126.57 L201.03,126.25 L201.13,125.96 L201.22,125.67 L201.32,125.34 L201.42,124.92 L201.54,124.39 L201.66,123.69 L201.80,122.80 L201.93,121.89 L202.07,120.96 L202.21,120.01 L202.35,119.05 L202.49,118.08 L202.64,117.10 L202.79,116.11 L202.94,115.12 L203.09,114.13 L203.24,113.14 L203.39,112.16 L203.54,111.18 L203.69,110.21 L203.84,109.26 L203.99,108.31 L204.14,107.39 L204.28,106.48 L204.42,105.60 L204.56,104.73 L204.70,103.90 L204.88,102.82 L205.05,101.77 L205.23,100.75 L205.40,99.76 L205.56,98.79 L205.73,97.84 L205.89,96.91 L206.06,96.00 L206.22,95.11 L206.38,94.23 L206.54,93.37 L206.71,92.51 L206.87,91.67 L207.03,90.83 L207.20,90.00 L207.41,88.98 L207.62,88.01 L207.83,87.07 L208.04,86.16 L208.25,85.26 L208.46,84.38 L208.67,83.51 L208.88,82.63 L209.09,81.75 L209.29,80.86 L209.50,79.94 L209.70,79.00 L209.88,78.09 L210.06,77.14 L210.24,76.17 L210.42,75.17 L210.59,74.16 L210.76,73.16 L210.94,72.16 L211.11,71.19 L211.28,70.25 L211.46,69.35 L211.64,68.50 L211.82,67.71 L212.00,67.00 L212.34,65.82 L212.69,64.77 L213.04,63.85 L213.40,63.06 L213.76,62.41 L214.13,61.89 L214.50,61.50 L215.20,61.02 L215.93,60.88 L216.65,61.29 L217.30,62.50 L217.48,63.08 L217.66,63.77 L217.83,64.56 L217.99,65.43 L218.15,66.37 L218.31,67.38 L218.46,68.43 L218.61,69.52 L218.76,70.62 L218.90,71.74 L219.03,72.85 L219.17,73.94 L219.30,75.00 L219.41,75.90 L219.51,76.81 L219.60,77.72 L219.69,78.64 L219.78,79.57 L219.86,80.51 L219.94,81.45 L220.02,82.41 L220.10,83.39 L220.19,84.37 L220.28,85.38 L220.37,86.40 L220.47,87.45 L220.58,88.51 L220.70,89.60 L220.80,90.47 L220.90,91.34 L221.01,92.22 L221.12,93.10 L221.24,93.98 L221.35,94.88 L221.47,95.79 L221.59,96.70 L221.72,97.64 L221.84,98.58 L221.97,99.54 L222.10,100.52 L222.23,101.52 L222.36,102.54 L222.49,103.58 L222.62,104.65 L222.75,105.74 L222.87,106.85 L223.00,108.00 L223.09,108.86 L223.19,109.75 L223.28,110.66 L223.37,111.59 L223.47,112.54 L223.56,113.50 L223.65,114.48 L223.75,115.48 L223.84,116.49 L223.94,117.51 L224.03,118.53 L224.13,119.57 L224.22,120.61 L224.32,121.65 L224.42,122.69 L224.51,123.73 L224.61,124.77 L224.71,125.80 L224.81,126.83 L224.91,127.85 L225.00,128.86 L225.10,129.86 L225.20,130.85 L225.30,131.81 L225.40,132.77 L225.50,133.70 L225.61,134.73 L225.73,135.72 L225.84,136.69 L225.96,137.63 L226.07,138.56 L226.19,139.47 L226.30,140.36 L226.42,141.25 L226.54,142.13 L226.65,143.01 L226.77,143.89 L226.89,144.78 L227.01,145.67 L227.13,146.58 L227.25,147.51 L227.36,148.46 L227.48,149.43 L227.60,150.44 L227.72,151.47 L227.84,152.54 L227.96,153.65 L228.08,154.80 L228.20,156.00 L228.28,156.82 L228.36,157.66 L228.44,158.53 L228.52,159.41 L228.59,160.32 L228.67,161.25 L228.75,162.20 L228.83,163.16 L228.91,164.13 L228.99,165.12 L229.07,166.13 L229.15,167.14 L229.23,168.16 L229.31,169.19 L229.39,170.23 L229.47,171.27 L229.55,172.31 L229.63,173.35 L229.71,174.40 L229.79,175.44 L229.88,176.49 L229.96,177.52 L230.04,178.56 L230.12,179.58 L230.20,180.60 L230.28,181.61 L230.36,182.60 L230.44,183.59 L230.52,184.56 L230.60,185.51 L230.68,186.45 L230.76,187.37 L230.84,188.27 L230.92,189.15 L231.00,190.00 L231.11,191.12 L231.22,192.20 L231.32,193.26 L231.43,194.29 L231.54,195.30 L231.65,196.28 L231.76,197.25 L231.86,198.19 L231.97,199.12 L232.08,200.04 L232.19,200.95 L232.30,201.85 L232.41,202.75 L232.51,203.64 L232.62,204.54 L232.73,205.43 L232.84,206.33 L232.95,207.23 L233.05,208.15 L233.16,209.07 L233.27,210.01 L233.37,210.97 L233.48,211.94 L233.59,212.94 L233.69,213.96 L233.80,215.00 L233.89,215.89 L233.98,216.79 L234.07,217.71 L234.15,218.63 L234.24,219.56 L234.33,220.49 L234.42,221.44 L234.51,222.39 L234.60,223.34 L234.69,224.31 L234.77,225.28 L234.86,226.25 L234.95,227.23 L235.04,228.21 L235.12,229.19 L235.21,230.18 L235.30,231.17 L235.39,232.16 L235.47,233.16 L235.56,234.15 L235.65,235.15 L235.73,236.14 L235.82,237.13 L235.91,238.13 L235.99,239.12 L236.08,240.11 L236.16,241.09 L236.25,242.08 L236.33,243.05 L236.42,244.03 L236.50,245.00 L236.58,245.97 L236.67,246.93 L236.75,247.90 L236.83,248.86 L236.91,249.82 L237.00,250.78 L237.08,251.74 L237.16,252.70 L237.24,253.66 L237.32,254.61 L237.40,255.57 L237.48,256.53 L237.56,257.49 L237.64,258.45 L237.72,259.41 L237.80,260.37 L237.88,261.33 L237.96,262.29 L238.04,263.26 L238.12,264.22 L238.20,265.19 L238.28,266.16 L238.36,267.13 L238.44,268.10 L238.52,269.08 L238.60,270.06 L238.68,271.04 L238.76,272.03 L238.84,273.01 L238.92,274.01 L239.00,275.00 L239.08,275.97 L239.16,276.96 L239.23,277.96 L239.31,278.98 L239.39,280.00 L239.47,281.04 L239.55,282.08 L239.63,283.13 L239.71,284.19 L239.78,285.24 L239.86,286.31 L239.94,287.37 L240.02,288.43 L240.10,289.49 L240.18,290.55 L240.26,291.61 L240.33,292.66 L240.41,293.70 L240.49,294.73 L240.57,295.76 L240.65,296.77 L240.73,297.77 L240.80,298.76 L240.88,299.73 L240.96,300.68 L241.04,301.62 L241.11,302.54 L241.19,303.44 L241.27,304.32 L241.35,305.17 L241.42,306.00 L241.50,306.80 L241.63,308.09 L241.75,309.29 L241.88,310.42 L242.00,311.49 L242.12,312.50 L242.24,313.47 L242.37,314.39 L242.49,315.29 L242.61,316.16 L242.73,317.02 L242.85,317.87 L242.98,318.72 L243.10,319.59 L243.23,320.48 L243.36,321.39 L243.49,322.34 L243.62,323.34 L243.76,324.39 L243.90,325.50 L244.01,326.38 L244.12,327.28 L244.23,328.20 L244.35,329.14 L244.46,330.10 L244.58,331.07 L244.69,332.05 L244.81,333.04 L244.93,334.05 L245.05,335.06 L245.17,336.08 L245.30,337.11 L245.42,338.14 L245.54,339.17 L245.66,340.21 L245.79,341.24 L245.91,342.28 L246.04,343.31 L246.16,344.33 L246.28,345.35 L246.41,346.36 L246.53,347.36 L246.65,348.36 L246.78,349.33 L246.90,350.30 L247.03,351.30 L247.15,352.31 L247.28,353.31 L247.41,354.32 L247.53,355.34 L247.66,356.35 L247.78,357.36 L247.91,358.37 L248.04,359.37 L248.16,360.37 L248.29,361.37 L248.42,362.36 L248.55,363.35 L248.67,364.32 L248.80,365.29 L248.93,366.24 L249.06,367.19 L249.19,368.12 L249.33,369.04 L249.46,369.95 L249.59,370.84 L249.73,371.71 L249.86,372.56 L250.00,373.40 L250.20,374.55 L250.40,375.68 L250.60,376.78 L250.80,377.85 L251.01,378.90 L251.22,379.92 L251.43,380.93 L251.64,381.91 L251.86,382.87 L252.07,383.82 L252.28,384.74 L252.49,385.65 L252.70,386.55 L252.90,387.43 L253.10,388.30 L253.30,389.15 L253.50,390.00 L253.75,391.07 L253.99,392.10 L254.22,393.08 L254.44,394.03 L254.66,394.95 L254.88,395.85 L255.11,396.73 L255.33,397.59 L255.56,398.46 L255.80,399.32 L256.06,400.20 L256.32,401.09 L256.60,402.00 L256.89,402.94 L257.19,403.90 L257.49,404.88 L257.81,405.87 L258.12,406.87 L258.45,407.85 L258.79,408.83 L259.13,409.79 L259.49,410.71 L259.85,411.61 L260.22,412.46 L260.61,413.26 L261.00,414.00 L261.59,414.98 L262.19,415.88 L262.81,416.70 L263.45,417.46 L264.11,418.15 L264.79,418.80 L265.50,419.40 L266.24,419.96 L267.00,420.50 L267.76,421.00 L268.51,421.43 L269.26,421.81 L270.03,422.16 L270.85,422.46 L271.74,422.74 L272.71,423.00 L273.79,423.25 L275.00,423.50 L275.72,423.64 L276.44,423.77 L277.17,423.89 L277.91,424.00 L278.67,424.11 L279.45,424.21 L280.27,424.31 L281.12,424.40 L282.02,424.49 L282.97,424.57 L283.97,424.65 L285.03,424.72 L286.16,424.80 L287.36,424.87 L288.64,424.93 L290.00,425.00 L290.75,425.03 L291.53,425.07 L292.35,425.10 L293.21,425.13 L294.10,425.15 L295.01,425.18 L295.96,425.21 L296.92,425.23 L297.91,425.26 L298.92,425.28 L299.94,425.30 L300.98,425.33 L302.03,425.35 L303.09,425.37 L304.15,425.38 L305.22,425.40 L306.29,425.42 L307.36,425.44 L308.43,425.45 L309.48,425.47 L310.53,425.48 L311.57,425.50 L312.60,425.51 L313.61,425.52 L314.60,425.54 L315.56,425.55 L316.51,425.56 L317.43,425.57 L318.32,425.58 L319.18,425.59 L320.00,425.60 L321.25,425.61 L322.50,425.62 L323.73,425.63 L324.96,425.64 L326.17,425.64 L327.37,425.64 L328.54,425.64 L329.68,425.64 L330.79,425.64 L331.88,425.64 L332.92,425.63 L333.92,425.63 L334.88,425.62 L335.79,425.62 L336.64,425.61 L337.44,425.61 L338.18,425.61 L338.86,425.60 L339.46,425.60 L340.00,425.60" stroke-width="5.1" stroke-dasharray="0.00 14.84 14.00 26.00 0.00 26.00 14.00 26.00 0.00 25.00 16.00 24.75 0.00 25.25 15.00 26.45 0.00 26.20 15.50 20.82 0.00 21.57 14.00 28.69 0.00 24.69 22.00 22.74 0.00 26.74 14.00 26.23 0.00 25.23 16.00 11.99 0.00 11.99 16.00 25.29 0.00 26.29 14.00 29.03 0.00 22.53 27.00 21.05 8.00 29.00 14.00 2000.00" stroke-linecap="round"/>
<path d="M128.30,425.69 L129.12,425.69 L129.94,425.69 L130.76,425.69 L131.58,425.69 L132.40,425.69 L133.22,425.69 L134.04,425.69 L134.86,425.69 L135.68,425.69 L136.50,425.69 L137.32,425.69 L138.14,425.69 L138.96,425.69 L139.78,425.69 L140.60,425.69 L141.42,425.69 L142.24,425.69 L143.06,425.69 L143.88,425.69 L144.70,425.69 L145.52,425.69 L146.34,425.69 L147.16,425.69 L147.98,425.69 L148.80,425.69 L149.62,425.69 L150.43,425.69 L151.25,425.69 L152.07,425.69 L152.89,425.69 L153.71,425.69 L154.53,425.69 L155.35,425.69 L156.17,425.69 L156.99,425.69 L157.81,425.69 L158.63,425.69 L159.45,425.69 L160.27,425.69 L161.09,425.69 L161.91,425.69 L162.73,425.69 L163.55,425.69 L164.37,425.69 L165.19,425.69 L166.01,425.69 L166.83,425.69 L167.65,425.69 L168.47,425.69 L169.29,425.69 L170.11,425.69 L170.93,425.69 L171.75,425.69 L172.57,425.69 L173.39,425.69 L174.21,425.69 L175.03,425.69 L175.85,425.69 L176.67,425.69 L177.49,425.69 L178.30,425.69 L179.12,425.69 L179.94,425.69 L180.76,425.69 L181.58,425.69 L182.40,425.69 L183.22,425.69 L184.04,425.69 L184.86,425.69 L185.68,425.69 L186.50,425.69 L187.32,425.69 L188.14,425.69 L188.96,425.69 L189.78,425.69 L190.60,425.69 L191.42,425.69 L192.24,425.69 L193.06,425.69 L193.88,425.69 L194.70,425.69 L195.52,425.69 L196.34,425.69 L197.16,425.69 L197.98,425.69 L198.80,425.69 L199.62,425.69 L200.44,425.69 L201.26,425.69 L202.08,425.69 L202.90,425.69 L203.72,425.69 L204.54,425.69 L205.35,425.69 L206.17,425.69 L206.99,425.69 L207.81,425.69 L208.63,425.69 L209.45,425.69 L210.27,425.69 L211.09,425.69 L211.91,425.69 L212.73,425.69 L213.55,425.69 L214.37,425.69 L215.19,425.69 L216.01,425.69 L216.83,425.69 L217.65,425.69 L218.47,425.69 L219.29,425.69 L220.11,425.69 L220.93,425.69 L221.75,425.69 L222.57,425.69 L223.39,425.69 L224.21,425.69 L225.03,425.69 L225.85,425.69 L226.67,425.69 L227.49,425.69 L228.31,425.69 L229.13,425.69 L229.95,425.69 L230.77,425.69 L231.59,425.69 L232.40,425.69 L233.22,425.69 L234.04,425.69 L234.86,425.69 L235.68,425.69 L236.50,425.69 L237.32,425.69 L238.14,425.69 L238.96,425.69 L239.78,425.69 L240.60,425.69 L241.42,425.69 L242.24,425.69 L243.06,425.69 L243.88,425.69 L244.70,425.69 L245.52,425.69 L246.34,425.69 L247.16,425.69 L247.98,425.69 L248.80,425.69 L249.62,425.69 L250.44,425.69 L251.26,425.69 L252.08,425.69 L252.90,425.69 L253.72,425.69 L254.54,425.69 L255.36,425.69 L256.18,425.69 L257.00,425.69 L257.82,425.69 L258.64,425.69 L259.45,425.69 L260.27,425.69 L261.09,425.69 L261.91,425.69 L262.73,425.69 L263.55,425.69 L264.37,425.69 L265.19,425.69 L266.01,425.69 L266.83,425.69 L267.65,425.69 L268.47,425.69 L269.29,425.69 L270.11,425.69 L270.93,425.69 L271.75,425.69 L272.57,425.69 L273.39,425.69 L274.21,425.69 L275.03,425.69 L275.85,425.69 L276.67,425.69 L277.49,425.69 L278.31,425.69 L279.13,425.69 L279.95,425.69 L280.77,425.69 L281.59,425.69 L282.41,425.69 L283.23,425.69 L284.05,425.69 L284.87,425.69 L285.69,425.69 L286.51,425.69 L287.32,425.69 L288.14,425.69 L288.96,425.69 L289.78,425.69 L290.60,425.69 L291.42,425.69 L292.24,425.69 L293.06,425.69 L293.88,425.69 L294.70,425.69 L295.52,425.69 L296.34,425.69 L297.16,425.69 L297.98,425.69 L298.80,425.69 L299.62,425.69 L300.44,425.69 L301.26,425.69 L302.08,425.69 L302.90,425.69 L303.72,425.69 L304.54,425.69 L305.36,425.69 L306.18,425.69 L307.00,425.69 L307.82,425.69 L308.64,425.69 L309.46,425.69 L310.28,425.69 L311.10,425.69 L311.92,425.69 L312.74,425.69 L313.56,425.69 L314.37,425.69 L315.19,425.69 L316.01,425.69 L316.83,425.69 L317.65,425.69 L318.47,425.69 L319.29,425.69 L320.11,425.69 L320.93,425.69 L321.75,425.69 L322.57,425.69 L323.39,425.69 L324.21,425.69 L325.03,425.69 L325.85,425.69 L326.67,425.69 L327.49,425.69 L328.31,425.69 L329.13,425.69 L329.95,425.69 L330.77,425.69 L331.59,425.69 L332.41,425.69 L333.23,425.69 L334.05,425.69 L334.87,425.69 L335.69,425.69 L336.51,425.69 L337.33,425.69 L338.15,425.69 L338.97,425.69 L339.79,425.69 L340.61,425.69 L341.42,425.69 L342.24,425.69 L343.06,425.69 L343.88,425.69 L344.70,425.69 L345.52,425.69 L346.34,425.69 L347.16,425.69 L347.98,425.69 L348.80,425.69 L349.62,425.69 L350.44,425.69 L351.26,425.69 L352.08,425.69 L352.90,425.69 L353.72,425.69 L354.54,425.69 L355.36,425.69 L356.18,425.69 L357.00,425.69 L357.82,425.69 L358.64,425.69 L359.46,425.69 L360.28,425.69 L361.10,425.69 L361.92,425.69 L362.74,425.69 L363.56,425.69 L364.38,425.69 L365.20,425.69 L366.02,425.69 L366.84,425.69 L367.66,425.69 L368.48,425.69 L369.29,425.69 L370.11,425.69 L370.93,425.69 L371.75,425.69 L372.57,425.69 L373.39,425.69 L374.21,425.69 L375.03,425.69 L375.85,425.69 L376.67,425.69 L377.49,425.69 L378.31,425.69 L379.13,425.69 L379.95,425.69 L380.77,425.69 L381.59,425.69 L382.41,425.69 L383.23,425.69 L384.05,425.69 L384.87,425.69 L385.69,425.69 L386.51,425.69 L387.33,425.69 L388.15,425.69 L388.97,425.69 L389.79,425.69 L390.61,425.69 L391.43,425.69 L392.25,425.69 L393.07,425.69 L393.89,425.69 L394.71,425.69 L395.53,425.69 L396.34,425.69 L397.16,425.69 L397.98,425.69 L398.80,425.69 L399.62,425.69 L400.44,425.69 L401.26,425.69 L402.08,425.69 L402.90,425.69 L403.72,425.69 L404.54,425.69 L405.36,425.69 L406.18,425.69 L407.00,425.69 L407.82,425.69 L408.64,425.69 L409.46,425.69 L410.28,425.69 L411.10,425.69 L411.92,425.69 L412.74,425.69 L413.56,425.69 L414.38,425.69 L415.20,425.69 L416.02,425.69 L416.84,425.69 L417.66,425.69 L418.48,425.69 L419.30,425.69 L420.12,425.69 L420.94,425.69 L421.76,425.69 L422.58,425.69 L423.39,425.69 L424.21,425.69 L425.03,425.69 L425.85,425.69 L426.67,425.69 L427.49,425.69 L428.31,425.69 L429.13,425.69 L429.95,425.69 L430.77,425.69 L431.59,425.69 L432.41,425.69 L433.23,425.69 L434.05,425.69 L434.87,425.69 L435.69,425.69 L436.51,425.68 L437.33,425.68 L438.15,425.68 L438.97,425.68 L439.79,425.68 L440.61,425.68 L441.43,425.67 L442.25,425.67 L443.07,425.67 L443.89,425.66 L444.71,425.66 L445.53,425.65 L446.35,425.64 L447.17,425.64 L447.99,425.63 L448.81,425.62 L449.63,425.61 L450.45,425.60 L451.26,425.58 L452.08,425.57 L452.90,425.55 L453.72,425.53 L454.54,425.51 L455.36,425.48 L456.18,425.45 L457.00,425.42 L457.82,425.39 L458.64,425.35 L459.46,425.30 L460.28,425.25 L461.10,425.19 L461.92,425.13 L462.74,425.06 L463.56,424.98 L464.38,424.89 L465.20,424.80 L466.02,424.69 L466.84,424.57 L467.66,424.44 L468.48,424.29 L469.30,424.13 L470.12,423.95 L470.94,423.75 L471.76,423.54 L472.58,423.30 L473.40,423.04 L474.22,422.75 L475.04,422.44 L475.86,422.10 L476.68,421.72 L477.50,421.32 L478.31,420.87 L479.13,420.39 L479.95,419.87 L480.77,419.30 L481.59,418.68 L482.41,418.01 L483.23,417.30 L484.05,416.52 L484.87,415.68 L485.69,414.78 L486.51,413.81 L487.33,412.77 L488.15,411.66 L488.97,410.46 L489.79,409.19 L490.61,407.83 L491.43,406.37 L492.25,404.83 L493.07,403.18 L493.89,401.44 L494.71,399.59 L495.53,397.63 L496.35,395.55 L497.17,393.36 L497.99,391.06 L498.81,388.62 L499.63,386.07 L500.45,383.39 L501.27,380.57 L502.09,377.63 L502.91,374.55 L503.73,371.34 L504.55,367.99 L505.37,364.50 L506.18,360.88 L507.00,357.12 L507.82,353.23 L508.64,349.21 L509.46,345.05 L510.28,340.77 L511.10,336.36 L511.92,331.83 L512.74,327.19 L513.56,322.43 L514.38,317.57 L515.20,312.61 L516.02,307.55 L516.84,302.41 L517.66,297.20 L518.48,291.92 L519.30,286.58 L520.12,281.19 L520.94,275.77 L521.76,270.32 L522.58,264.86 L523.40,259.40 L524.22,253.95 L525.04,248.53 L525.86,243.14 L526.68,237.81 L527.50,232.54 L528.32,227.35 L529.14,222.26 L529.96,217.27 L530.78,212.41 L531.60,207.68 L532.42,203.10 L533.23,198.69 L534.05,194.46 L534.87,190.42 L535.69,186.58 L536.51,182.96 L537.33,179.57 L538.15,176.41 L538.97,173.50 L539.79,170.86 L540.61,168.48 L541.43,166.37 L542.25,164.55 L543.07,163.02 L543.89,161.78 L544.71,160.84 L545.53,160.20 L546.35,159.87 L547.17,159.83 L547.99,160.07 L548.81,160.56 L549.63,161.31 L550.45,162.32 L551.27,163.58 L552.09,165.09 L552.91,166.84 L553.73,168.84 L554.55,171.07 L555.37,173.52 L556.19,176.20 L557.01,179.09 L557.83,182.18 L558.65,185.47 L559.47,188.95 L560.28,192.61 L561.10,196.43 L561.92,200.42 L562.74,204.55 L563.56,208.81 L564.38,213.21 L565.20,217.71 L566.02,222.32 L566.84,227.03 L567.66,231.81 L568.48,236.67 L569.30,241.58 L570.12,246.54 L570.94,251.54 L571.76,256.56 L572.58,261.60 L573.40,266.65 L574.22,271.69 L575.04,276.72 L575.86,281.72 L576.68,286.69 L577.50,291.62 L578.32,296.51 L579.14,301.33 L579.96,306.10 L580.78,310.79 L581.60,315.41 L582.42,319.95 L583.24,324.39 L584.06,328.75 L584.88,333.01 L585.70,337.17 L586.52,341.23 L587.34,345.17 L588.15,349.01 L588.97,352.74 L589.79,356.35 L590.61,359.85 L591.43,363.24 L592.25,366.51 L593.07,369.66 L593.89,372.69 L594.71,375.62 L595.53,378.42 L596.35,381.11 L597.17,383.69 L597.99,386.16 L598.81,388.52 L599.63,390.78 L600.45,392.93 L601.27,394.97 L602.09,396.92 L602.91,398.77 L603.73,400.53 L604.55,402.19 L605.37,403.77 L606.19,405.26 L607.01,406.67 L607.83,407.99 L608.65,409.25 L609.47,410.42 L610.29,411.53 L611.11,412.57 L611.93,413.55 L612.75,414.46 L613.57,415.32 L614.39,416.12 L615.20,416.86 L616.02,417.56 L616.84,418.21 L617.66,418.81 L618.48,419.37 L619.30,419.89 L620.12,420.38 L620.94,420.82 L621.76,421.24 L622.58,421.62 L623.40,421.98 L624.22,422.30 L625.04,422.60 L625.86,422.88 L626.68,423.13 L627.50,423.37 L628.32,423.58 L629.14,423.78 L629.96,423.96 L630.78,424.12 L631.60,424.27 L632.42,424.41 L633.24,424.54 L634.06,424.65 L634.88,424.75 L635.70,424.85 L636.52,424.93 L637.34,425.01 L638.16,425.08 L638.98,425.14 L639.80,425.20 L640.62,425.25 L641.44,425.30 L642.25,425.34 L643.07,425.38 L643.89,425.41 L644.71,425.45 L645.53,425.47 L646.35,425.50 L647.17,425.52 L647.99,425.54 L648.81,425.56 L649.63,425.57 L650.45,425.59 L651.27,425.60 L652.09,425.61 L652.91,425.62 L653.73,425.63 L654.55,425.64 L655.37,425.64 L656.19,425.65 L657.01,425.65 L657.83,425.66 L658.65,425.66 L659.47,425.67 L660.29,425.67 L661.11,425.67 L661.93,425.68 L662.75,425.68 L663.57,425.68 L664.39,425.68 L665.21,425.68 L666.03,425.68 L666.85,425.69 L667.67,425.69 L668.49,425.69 L669.30,425.69 L670.12,425.69 L670.94,425.69 L671.76,425.69 L672.58,425.69 L673.40,425.69 L674.22,425.69 L675.04,425.69 L675.86,425.69 L676.68,425.69 L677.50,425.69 L678.32,425.69 L679.14,425.69 L679.96,425.69 L680.78,425.69 L681.60,425.69 L682.42,425.69 L683.24,425.69 L684.06,425.69 L684.88,425.69 L685.70,425.69 L686.52,425.69 L687.34,425.69 L688.16,425.69 L688.98,425.69 L689.80,425.69 L690.62,425.69 L691.44,425.69 L692.26,425.69 L693.08,425.69 L693.90,425.69" stroke-width="5.5" stroke-linecap="round"/>
<path d="M140.00,425.60 L140.55,425.59 L141.26,425.58 L142.11,425.58 L143.07,425.58 L144.09,425.57 L145.16,425.56 L146.24,425.53 L147.29,425.49 L148.29,425.42 L149.20,425.32 L150.00,425.20 L151.06,424.96 L151.98,424.68 L152.80,424.35 L153.57,423.97 L154.33,423.54 L155.13,423.05 L156.00,422.50 L156.75,422.02 L157.54,421.49 L158.35,420.91 L159.18,420.30 L160.01,419.67 L160.81,419.01 L161.59,418.34 L162.33,417.67 L163.00,417.00 L163.69,416.25 L164.34,415.49 L164.94,414.72 L165.50,413.94 L166.03,413.13 L166.54,412.29 L167.03,411.42 L167.50,410.50 L167.87,409.73 L168.21,408.92 L168.54,408.08 L168.86,407.22 L169.16,406.34 L169.44,405.46 L169.72,404.58 L169.99,403.70 L170.25,402.84 L170.50,402.00 L170.77,401.08 L171.03,400.15 L171.27,399.22 L171.50,398.30 L171.71,397.39 L171.92,396.50 L172.12,395.63 L172.31,394.80 L172.50,394.00 L172.73,392.99 L172.96,391.97 L173.17,390.97 L173.37,390.05 L173.54,389.22 L173.69,388.52 L173.80,388.00" stroke-width="4.6" stroke-linecap="round"/>
</g>
<g stroke="#000" fill="none" stroke-linecap="round">
<line x1="723.5" y1="142" x2="786" y2="142" stroke-width="5.1" stroke-dasharray="0 10.2"/>
<line x1="722.8" y1="211.6" x2="791" y2="211.6" stroke-width="3.9" stroke-dasharray="8.3 8"/>
<line x1="723.3" y1="281.2" x2="792" y2="281.2" stroke-width="5" stroke-dasharray="15 20.5 0 20.5"/>
<line x1="724" y1="350" x2="790.5" y2="350" stroke-width="5.5"/>
</g>
<g stroke="#000" stroke-width="2" fill="none" stroke-linecap="round" stroke-linejoin="round">
<line x1="316.6" y1="166.8" x2="246" y2="229.9"/>
<polyline points="253,211.4 246,229.9 266.2,226"/>
<line x1="616.4" y1="133.7" x2="585.7" y2="212.2"/>
<polyline points="583.2,192 585.7,212.2 602.3,198.7"/>
<line x1="427.4" y1="255.7" x2="463.5" y2="309.2"/>
<polyline points="445.3,300 463.5,309.2 462.4,289.2"/>
</g>
</svg>
</body></html>
